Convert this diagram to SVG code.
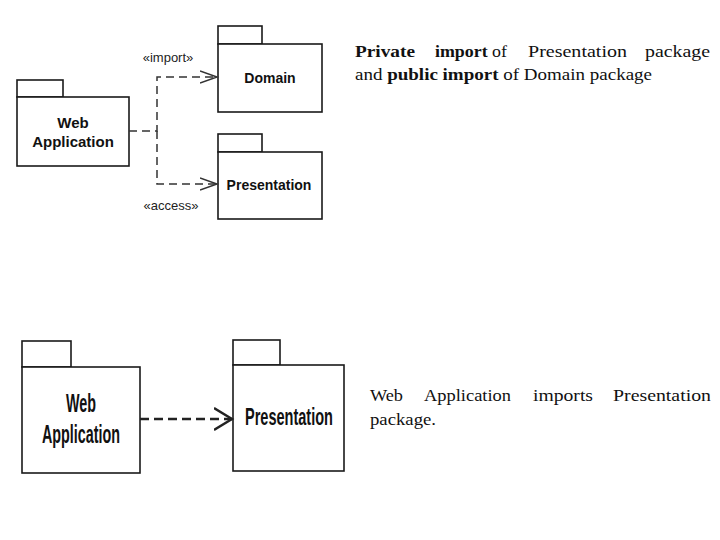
<svg xmlns="http://www.w3.org/2000/svg" width="720" height="540" viewBox="0 0 720 540">
<style>
.pk{fill:#fff;stroke:#1a1a1a;stroke-width:1.6}
.lbl{font-family:"Liberation Sans",Arial,sans-serif;font-weight:bold;fill:#111;text-anchor:middle}
.st{font-family:"Liberation Sans",Arial,sans-serif;font-size:13px;fill:#222;text-anchor:middle}
.dep{fill:none;stroke:#333;stroke-width:1.5;stroke-dasharray:8 5}
.dep2{fill:none;stroke:#222;stroke-width:2.6;stroke-dasharray:9 5}
.txt{font-family:"Liberation Serif","Times New Roman",serif;font-size:17px;fill:#111}
</style>
<defs>
<marker id="ah1" markerUnits="userSpaceOnUse" markerWidth="20" markerHeight="16" refX="17" refY="7" orient="auto">
<polyline points="0,1 17,7 0,13" fill="none" stroke="#333" stroke-width="1.5"/>
</marker>
<marker id="ah2" markerUnits="userSpaceOnUse" markerWidth="22" markerHeight="26" refX="18" refY="12" orient="auto">
<polyline points="0,1 18,12 0,23" fill="none" stroke="#222" stroke-width="2.4"/>
</marker>
</defs>

<g id="web-app-top">
<rect class="pk" x="17" y="80" width="46" height="17"/>
<rect class="pk" x="17" y="97" width="112" height="69"/>
<text class="lbl" font-size="15" x="73" y="128">Web</text>
<text class="lbl" font-size="15" x="73" y="147">Application</text>
</g>
<g id="domain-top">
<rect class="pk" x="218" y="26" width="44" height="18"/>
<rect class="pk" x="218" y="44" width="104" height="68"/>
<text class="lbl" font-size="14" x="270" y="83">Domain</text>
</g>
<g id="presentation-top">
<rect class="pk" x="218" y="134" width="44" height="18"/>
<rect class="pk" x="218" y="152" width="104" height="67"/>
<text class="lbl" font-size="14" x="269" y="190">Presentation</text>
</g>

<g id="web-app-bottom">
<rect class="pk" x="22" y="341" width="49" height="26" stroke-width="2"/>
<rect class="pk" x="22" y="367" width="118" height="106" stroke-width="2"/>
<text class="lbl" font-size="25" x="81" y="412" textLength="30" lengthAdjust="spacingAndGlyphs">Web</text>
<text class="lbl" font-size="25" x="81" y="443" textLength="78" lengthAdjust="spacingAndGlyphs">Application</text>
</g>
<g id="presentation-bottom">
<rect class="pk" x="233" y="340" width="47" height="25" stroke-width="2"/>
<rect class="pk" x="233" y="365" width="111" height="106" stroke-width="2"/>
<text class="lbl" font-size="24" x="289" y="425" textLength="88" lengthAdjust="spacingAndGlyphs">Presentation</text>
</g>

<g id="connectors">
<path class="dep" d="M129,131 H157 V77 H217" marker-end="url(#ah1)"/>
<path class="dep" d="M157,131 V184 H217" marker-end="url(#ah1)"/>
<text class="st" x="168" y="62">«import»</text>
<text class="st" x="171" y="210">«access»</text>
<path class="dep2" d="M140,419 H232" marker-end="url(#ah2)"/>
</g>

<g id="caption-top" class="txt">
<text x="355" y="57" font-weight="bold" textLength="60" lengthAdjust="spacingAndGlyphs">Private</text>
<text x="435" y="57" textLength="72" lengthAdjust="spacingAndGlyphs"><tspan font-weight="bold">import</tspan> of</text>
<text x="528" y="57" textLength="99" lengthAdjust="spacingAndGlyphs">Presentation</text>
<text x="645" y="57" textLength="65" lengthAdjust="spacingAndGlyphs">package</text>
<text x="355" y="80" textLength="297" lengthAdjust="spacingAndGlyphs">and <tspan font-weight="bold">public import</tspan> of Domain package</text>
</g>
<g id="caption-bottom" class="txt">
<text x="370" y="401" textLength="33" lengthAdjust="spacingAndGlyphs">Web</text>
<text x="424" y="401" textLength="87" lengthAdjust="spacingAndGlyphs">Application</text>
<text x="533" y="401" textLength="60" lengthAdjust="spacingAndGlyphs">imports</text>
<text x="613" y="401" textLength="98" lengthAdjust="spacingAndGlyphs">Presentation</text>
<text x="370" y="425" textLength="66" lengthAdjust="spacingAndGlyphs">package.</text>
</g>
</svg>
